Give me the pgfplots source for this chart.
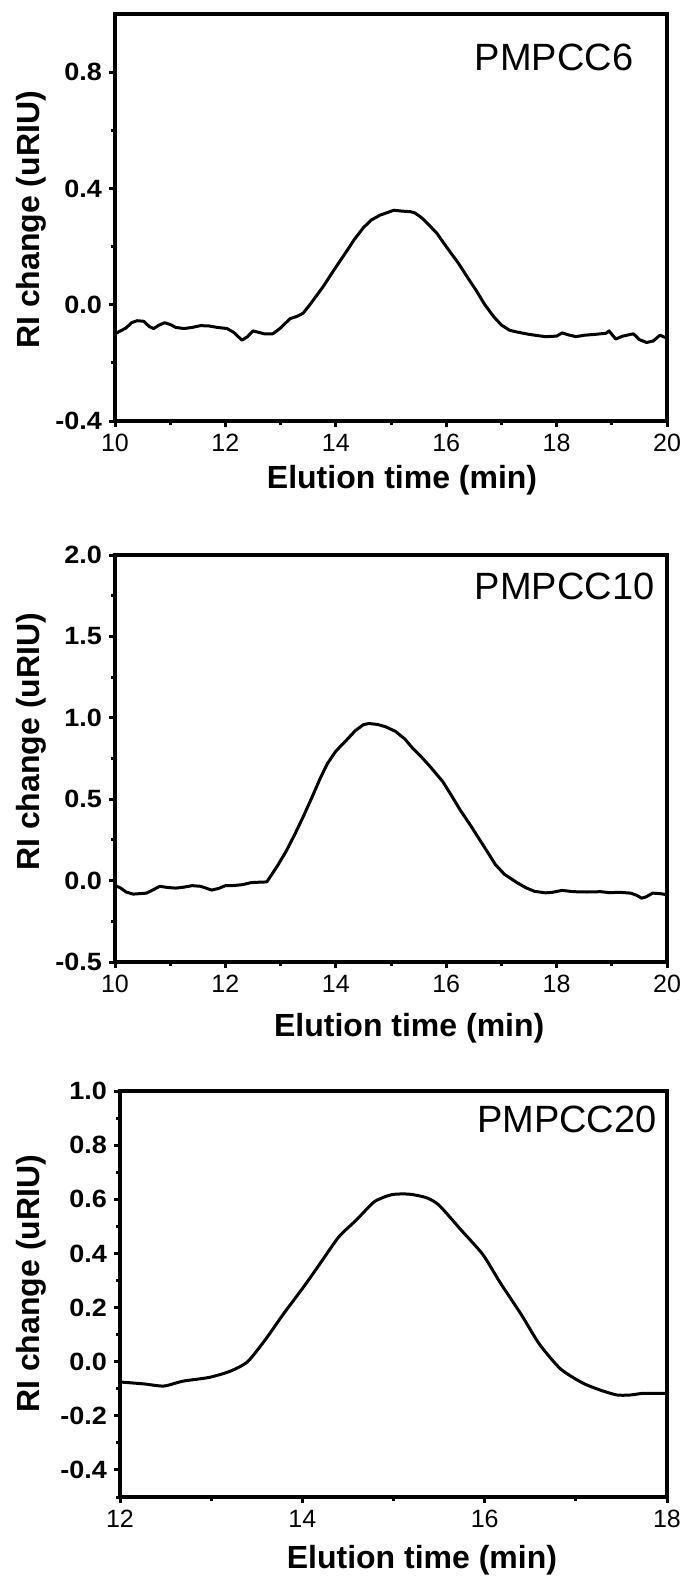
\documentclass[border=0pt]{standalone}
\usepackage{fontspec}
\setmainfont{Liberation Sans}
\newfontfamily\ytickfont{Liberation Sans}[FakeStretch=1.08]
\usepackage{pgfplots}
\pgfplotsset{compat=1.18}

\pgfplotsset{
  gpc/.style={
    scale only axis,
    axis line style={line width=2pt},
    tick pos=left,
    tick align=outside,
    major tick length=3pt,
    minor tick length=2pt,
    every tick/.style={black, line width=1.5pt},
    xticklabel style={font=\fontsize{12.5}{12.5}\selectfont},
    yticklabel style={font=\ytickfont\bfseries\fontsize{12.5}{12.5}\selectfont},
    label style={font=\bfseries\fontsize{16}{16}\selectfont},
    xlabel={Elution time (min)},
    ylabel={RI change (uRIU)},
    minor x tick num=1,
    minor y tick num=1,
    clip=false,
  },
  trace/.style={black, line width=1.5pt, line join=round, mark=none},
}

\begin{document}
\begin{tikzpicture}

% ---- PMPCC6 ----
\begin{axis}[gpc,
  at={(57.5pt,-210.5pt)}, anchor=south west,
  width=276pt, height=203.5pt,
  xmin=10, xmax=20, ymin=-0.4, ymax=1.0,
  xtick={10,12,14,16,18,20},
  xticklabels={10,12,14,16,18,20},
  ytick={-0.4,0,0.4,0.8},
  yticklabels={-0.4,0.0,0.4,0.8},
  xlabel style={at={(rel axis cs:0.52,-0.145)}, anchor=center},
  ylabel style={at={(rel axis cs:-0.152,0.494)}, anchor=center},
]
\addplot[trace] coordinates {
  (10.00,-0.100) (10.10,-0.090) (10.20,-0.080) (10.30,-0.062) (10.40,-0.055)
  (10.52,-0.057) (10.62,-0.075) (10.70,-0.082) (10.80,-0.070) (10.90,-0.062)
  (11.00,-0.068) (11.10,-0.078) (11.25,-0.082) (11.40,-0.078) (11.55,-0.072)
  (11.70,-0.073) (11.85,-0.078) (12.03,-0.082) (12.15,-0.095) (12.30,-0.122)
  (12.40,-0.110) (12.50,-0.090) (12.60,-0.095) (12.70,-0.100) (12.86,-0.100)
  (13.00,-0.080) (13.17,-0.048) (13.30,-0.040) (13.41,-0.029) (13.55,0.005)
  (13.77,0.062) (13.90,0.100) (14.05,0.143) (14.20,0.185) (14.33,0.223)
  (14.50,0.265) (14.64,0.291) (14.80,0.308) (14.95,0.318) (15.05,0.325)
  (15.20,0.322) (15.35,0.320) (15.43,0.316) (15.55,0.300) (15.70,0.272)
  (15.83,0.246) (16.00,0.200) (16.22,0.143) (16.40,0.090) (16.54,0.050)
  (16.70,0.000) (16.86,-0.041) (17.00,-0.070) (17.15,-0.088) (17.26,-0.093)
  (17.50,-0.102) (17.80,-0.110) (18.00,-0.108) (18.10,-0.097) (18.20,-0.103)
  (18.35,-0.110) (18.50,-0.105) (18.70,-0.102) (18.90,-0.098) (18.95,-0.090)
  (19.07,-0.118) (19.20,-0.108) (19.39,-0.100) (19.50,-0.120) (19.63,-0.130)
  (19.75,-0.125) (19.87,-0.105) (20.00,-0.115)
};
\node[anchor=west, font=\fontsize{19}{19}\selectfont] at (rel axis cs:0.639,0.894) {PMPCC6};
\end{axis}

% ---- PMPCC10 ----
\begin{axis}[gpc,
  at={(57.5pt,-481pt)}, anchor=south west,
  width=276pt, height=203.5pt,
  xmin=10, xmax=20, ymin=-0.5, ymax=2.0,
  xtick={10,12,14,16,18,20},
  xticklabels={10,12,14,16,18,20},
  ytick={-0.5,0,0.5,1,1.5,2},
  yticklabels={-0.5,0.0,0.5,1.0,1.5,2.0},
  xlabel style={at={(rel axis cs:0.533,-0.162)}, anchor=center},
  ylabel style={at={(rel axis cs:-0.152,0.541)}, anchor=center},
]
\addplot[trace] coordinates {
  (10.00,-0.030) (10.10,-0.045) (10.20,-0.070) (10.33,-0.083) (10.45,-0.080)
  (10.57,-0.077) (10.70,-0.055) (10.81,-0.035) (10.95,-0.042) (11.10,-0.046)
  (11.25,-0.040) (11.40,-0.031) (11.55,-0.035) (11.75,-0.058) (11.88,-0.048)
  (12.00,-0.031) (12.15,-0.030) (12.31,-0.025) (12.47,-0.012) (12.60,-0.010)
  (12.75,-0.008) (12.94,0.089) (13.10,0.180) (13.26,0.286) (13.42,0.400)
  (13.57,0.513) (13.72,0.630) (13.85,0.720) (14.00,0.795) (14.20,0.865)
  (14.35,0.920) (14.50,0.958) (14.60,0.965) (14.76,0.959) (14.90,0.945)
  (15.08,0.917) (15.25,0.870) (15.39,0.814) (15.55,0.760) (15.71,0.700)
  (15.94,0.607) (16.10,0.520) (16.26,0.430) (16.42,0.350) (16.58,0.265)
  (16.75,0.175) (16.89,0.099) (17.05,0.040) (17.29,-0.014) (17.45,-0.045)
  (17.60,-0.066) (17.80,-0.075) (17.92,-0.072) (18.10,-0.060) (18.30,-0.068)
  (18.55,-0.070) (18.80,-0.068) (18.95,-0.074) (19.15,-0.072) (19.34,-0.077)
  (19.45,-0.090) (19.54,-0.108) (19.62,-0.100) (19.74,-0.077) (19.88,-0.080)
  (20.00,-0.087)
};
\node[anchor=west, font=\fontsize{19}{19}\selectfont] at (rel axis cs:0.639,0.924) {PMPCC10};
\end{axis}

% ---- PMPCC20 ----
\begin{axis}[gpc,
  at={(60pt,-748.5pt)}, anchor=south west,
  width=273.5pt, height=203pt,
  xmin=12, xmax=18, ymin=-0.5, ymax=1.0,
  xtick={12,14,16,18},
  xticklabels={12,14,16,18},
  ytick={-0.4,-0.2,0,0.2,0.4,0.6,0.8,1.0},
  yticklabels={-0.4,-0.2,0.0,0.2,0.4,0.6,0.8,1.0},
  minor ytick={-0.5,-0.3,-0.1,0.1,0.3,0.5,0.7,0.9},
  minor y tick num=0,
  xlabel style={at={(rel axis cs:0.552,-0.155)}, anchor=center},
  ylabel style={at={(rel axis cs:-0.163,0.525)}, anchor=center},
]
\addplot[trace, smooth, tension=0.4] coordinates {
  (12.00,-0.075) (12.26,-0.082) (12.48,-0.090) (12.69,-0.072) (12.98,-0.058)
  (13.21,-0.035) (13.40,0.000) (13.60,0.084) (13.79,0.175) (14.02,0.279)
  (14.21,0.370) (14.40,0.461) (14.60,0.526) (14.79,0.591) (14.98,0.617)
  (15.17,0.619) (15.36,0.606) (15.50,0.578) (15.74,0.487) (15.98,0.396)
  (16.17,0.292) (16.40,0.175) (16.60,0.065) (16.83,-0.026) (17.07,-0.078)
  (17.26,-0.104) (17.45,-0.123) (17.60,-0.123) (17.74,-0.117) (18.00,-0.117)
};
\node[anchor=west, font=\fontsize{19}{19}\selectfont] at (rel axis cs:0.64,0.929) {PMPCC20};
\end{axis}

\pgfresetboundingbox
\useasboundingbox (0,0) rectangle (342pt,-788.5pt);
\end{tikzpicture}
\end{document}
